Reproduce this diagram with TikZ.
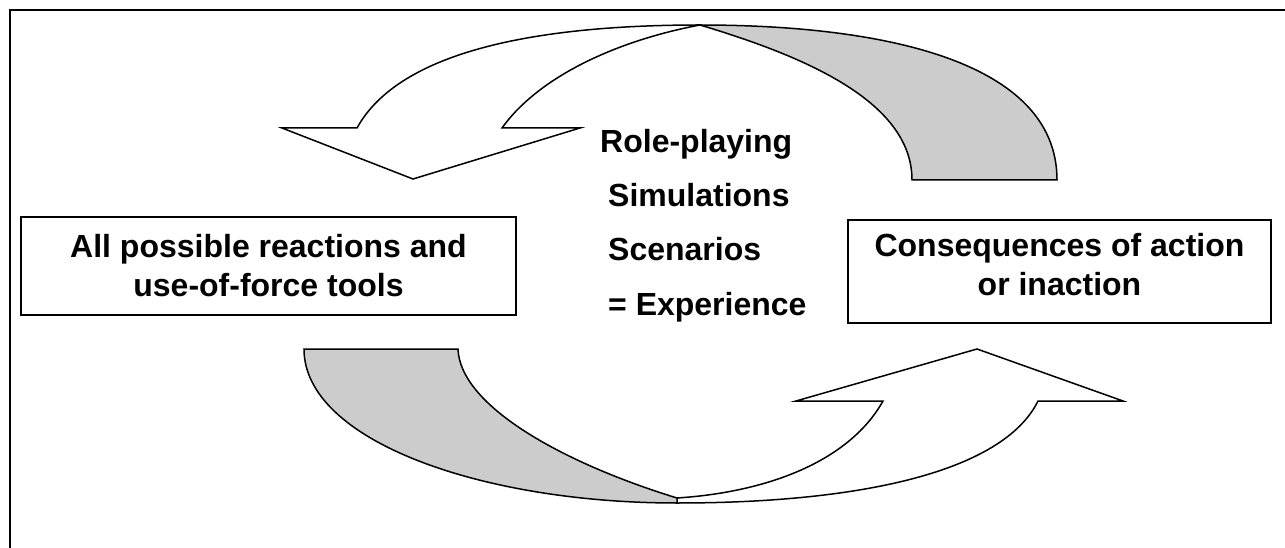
\documentclass[tikz,border=0pt]{standalone}
\usepackage{fontspec}
\setmainfont{Liberation Sans}
\definecolor{ribbongray}{RGB}{204,204,204}
\begin{document}
\begin{tikzpicture}[x=1pt,y=-1pt,
  frameline/.style={line width=2.5pt},
  box/.style={draw, line width=2pt, inner sep=0pt},
  boxtext/.style={font=\fontsize{32}{39}\selectfont\bfseries, align=center, inner sep=0pt},
  itemtext/.style={font=\fontsize{32}{38}\selectfont\bfseries, anchor=base west, inner sep=0pt},
  ribbon/.style={draw, line width=1.5pt, fill=white},
  ribbonback/.style={draw, line width=1.5pt, fill=ribbongray}]
\useasboundingbox (0,0) rectangle (1285,548);
\clip (0,0) rectangle (1285,548);
% outer frame (open to the right and bottom)
\draw[frameline] (10,600) -- (10,10) -- (1350,10);

% top curved arrow (front face, white)
\path[ribbon] (282,128) -- (357,128)
  .. controls (400,50) and (540,25) .. (700,25)
  .. controls (620,40) and (540,75) .. (502,128)
  -- (580,128) -- (413,179) -- cycle;
% top curved arrow (back face, gray)
\path[ribbonback] (700,25) .. controls (880,25) and (1057,60) .. (1057,180)
  -- (912,180) .. controls (912,100) and (800,55) .. (700,25) -- cycle;

% bottom curved arrow (front face, white)
\path[ribbon] (1123,401) -- (1038,401)
  .. controls (1003,472) and (860,503) .. (677,503)
  -- (677,498) .. controls (770,492) and (850,460) .. (883,401)
  -- (796,401) -- (977,349) -- cycle;
% bottom curved arrow (back face, gray)
\path[ribbonback] (677,503) .. controls (480,503) and (304,440) .. (304,349)
  -- (458,349) .. controls (460,405) and (560,462) .. (677,498) -- cycle;

% boxes
\node[box, minimum width=495pt, minimum height=98pt] (lbox) at (268.5,266) {};
\node[boxtext] (ltext) at (lbox.center) {All possible reactions and\\use-of-force tools};
\node[box, minimum width=423pt, minimum height=103pt] (rbox) at (1059.5,271.5) {};
\node[boxtext] (rtext) at (1059.5,265) {Consequences of action\\or inaction};

% centre list
\node[itemtext] (t1) at (600,153) {Role-playing};
\node[itemtext] (t2) at (608,207) {Simulations};
\node[itemtext] (t3) at (608,261) {Scenarios};
\node[itemtext] (t4) at (608,315) {= Experience};
\end{tikzpicture}
\end{document}
